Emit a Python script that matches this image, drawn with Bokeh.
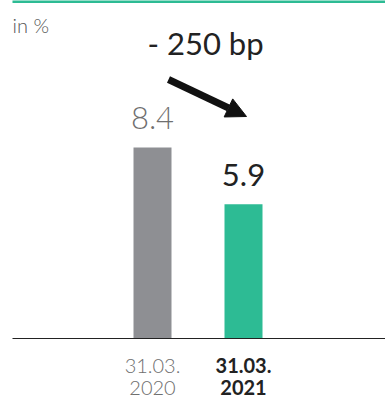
from bokeh.plotting import figure
from bokeh.models import Range1d, Arrow, NormalHead, ColumnDataSource
from bokeh.core.properties import value
from bokeh.embed import file_html
from bokeh.resources import INLINE

# ---- data ----
date_line = ["31.03.", "31.03."]
year_line = ["2020", "2021"]
values = [8.4, 5.9]
value_labels = ["8.4", "5.9"]
bar_colors = ["#8e8f93", "#2dbb94"]
label_colors = ["#6f6f6f", "#222222"]
label_fonts = ["Lato Light", "Lato"]
cat_styles = ["normal", "bold"]
cat_fonts = ["Lato Light", "Lato"]
cat_colors = ["#6f6f6f", "#222222"]
change_text = "- 250 bp"
unit_text = "in %"

W, H = 385, 398
px_per_x = 91.0
px_per_y = 22.74
x0_px = 152.0
base_px = 338.0

xs = list(range(len(values)))
x_start = -x0_px / px_per_x
x_end = (W - x0_px) / px_per_x
y_start = -(H - base_px) / px_per_y
y_end = base_px / px_per_y

p = figure(width=W, height=H, output_backend="svg", toolbar_location=None,
           x_range=Range1d(x_start, x_end), y_range=Range1d(y_start, y_end),
           min_border=0, min_border_left=0, min_border_right=0,
           min_border_top=0, min_border_bottom=0)
p.xaxis.visible = False
p.yaxis.visible = False
p.grid.visible = False
p.outline_line_color = None
p.background_fill_color = "white"
p.border_fill_color = "white"

src = ColumnDataSource(dict(x=xs, v=values, lab=value_labels, c=bar_colors,
                            lc=label_colors, lf=label_fonts,
                            d=date_line, yr=year_line, cs=cat_styles,
                            cf=cat_fonts, cc=cat_colors, zero=[0] * len(xs)))

p.vbar(x="x", top="v", bottom=0, width=38 / px_per_x, fill_color="c",
       line_color=None, source=src)

# value labels
p.text(x="x", y="v", text="lab", text_align="center", text_baseline="alphabetic",
       y_offset=-29, text_font="lf", text_font_size="31px", text_color="lc",
       source=src)

# category labels
p.text(x="x", y="zero", text="d", text_align="center", text_baseline="alphabetic",
       y_offset=27, text_font="cf", text_font_size="20px", text_font_style="cs",
       text_color="cc", source=src)
p.text(x="x", y="zero", text="yr", text_align="center", text_baseline="alphabetic",
       y_offset=49, text_font="cf", text_font_size="20px", text_font_style="cs",
       text_color="cc", source=src)

left_x = x_start + 12 / px_per_x
# baseline
p.segment(x0=[left_x], y0=[0], x1=[x_end], y1=[0], line_color="#222222", line_width=1.2)
# top teal rule
p.segment(x0=[left_x], y0=[y_end], x1=[x_end], y1=[y_end], line_color="#2dbb94", line_width=5)

# unit label
p.text(x=[left_x], y=[y_end], text=[unit_text], text_align="left", text_baseline="top",
       y_offset=12, text_font=value("Lato Light"), text_font_size="20px", text_color="#555555")

# change annotation
p.text(x=[-5 / px_per_x], y=[(base_px - 56) / px_per_y], text=[change_text],
       text_align="left", text_baseline="alphabetic", text_font=value("Lato"),
       text_font_size="31px", text_color="#222222", y_offset=-14)

arrow = Arrow(end=NormalHead(size=20, fill_color="#111111", line_color="#111111"),
              x_start=(168 - x0_px) / px_per_x, y_start=(base_px - 79) / px_per_y,
              x_end=(246 - x0_px) / px_per_x, y_end=(base_px - 116) / px_per_y,
              line_color="#111111", line_width=7)
p.add_layout(arrow)

open("out.html", "w").write(file_html(p, INLINE))
